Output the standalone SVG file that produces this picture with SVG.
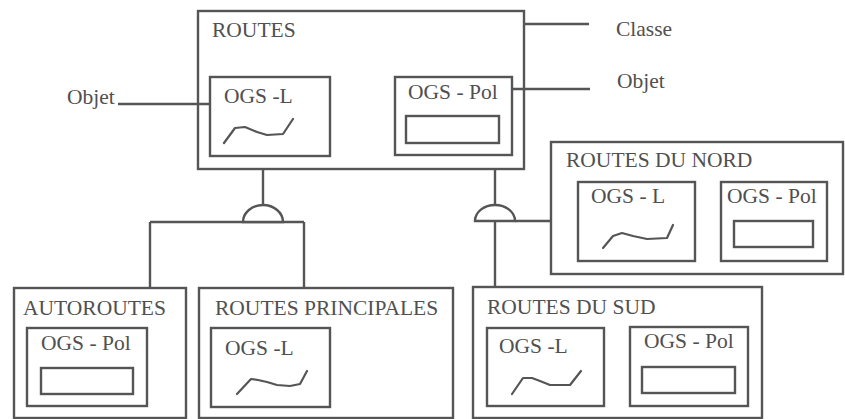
<svg xmlns="http://www.w3.org/2000/svg" width="845" height="419" viewBox="0 0 845 419">
<style>
.b{fill:none;stroke:#555;stroke-width:2.4}
.c{fill:none;stroke:#555;stroke-width:2.2;stroke-linejoin:round;stroke-linecap:round}
.t{font-family:"Liberation Serif","Times New Roman",serif;font-size:21.5px;fill:#505050}
.w{fill:#fff;stroke:#555;stroke-width:2.4}
</style>
<rect width="845" height="419" fill="#fff"/>
<g id="connectors">
<line class="b" x1="524" y1="24" x2="589" y2="24"/>
<line class="b" x1="512" y1="89" x2="590" y2="89"/>
<line class="b" x1="118" y1="104" x2="210" y2="104"/>
<line class="b" x1="263" y1="169" x2="263" y2="205"/>
<line class="b" x1="150" y1="222" x2="304" y2="222"/>
<line class="b" x1="150" y1="222" x2="150" y2="288"/>
<line class="b" x1="304" y1="222" x2="304" y2="288"/>
<path class="w" d="M243,222 A20,17 0 0 1 283,222 Z"/>
<line class="b" x1="495" y1="169" x2="495" y2="205"/>
<line class="b" x1="495" y1="221" x2="495" y2="287"/>
<line class="b" x1="515" y1="221" x2="551" y2="221"/>
<path class="w" d="M475,221 A20,16 0 0 1 515,221 Z"/>
</g>
<g id="labels">
<text class="t" x="616" y="36">Classe</text>
<text class="t" x="617" y="88">Objet</text>
<text class="t" x="67" y="104">Objet</text>
</g>
<g id="routes">
<rect class="b" x="198" y="11" width="326" height="158"/>
<text class="t" x="212" y="37">ROUTES</text>
<rect class="b" x="210" y="77" width="120" height="79"/>
<text class="t" x="224" y="103">OGS -L</text>
<path class="c" d="M224,143 L235,128 L245,127 L257,132 L267,135 L283,134 L293,119"/>
<rect class="b" x="395" y="77" width="117" height="78"/>
<text class="t" x="408" y="99">OGS - Pol</text>
<rect class="b" x="406" y="116" width="93" height="27"/>
</g>
<g id="routes-du-nord">
<rect class="b" x="551" y="142" width="292" height="132"/>
<text class="t" x="566" y="167">ROUTES DU NORD</text>
<rect class="b" x="578" y="182" width="117" height="79"/>
<text class="t" x="591" y="203">OGS - L</text>
<path class="c" d="M603,248 L613,236 L622,233 L633,236 L647,239 L667,238 L673,225"/>
<rect class="b" x="721" y="182" width="106" height="79"/>
<text class="t" x="727" y="203">OGS - Pol</text>
<rect class="b" x="734" y="221" width="79" height="26"/>
</g>
<g id="autoroutes">
<rect class="b" x="14" y="288" width="172" height="130"/>
<text class="t" x="23" y="315">AUTOROUTES</text>
<rect class="b" x="27" y="328" width="120" height="78"/>
<text class="t" x="41" y="350">OGS - Pol</text>
<rect class="b" x="41" y="368" width="92" height="26"/>
</g>
<g id="routes-principales">
<rect class="b" x="199" y="288" width="254" height="130"/>
<text class="t" x="215" y="315">ROUTES PRINCIPALES</text>
<rect class="b" x="211" y="328" width="119" height="79"/>
<text class="t" x="225" y="355">OGS -L</text>
<path class="c" d="M237,394 L251,379 L258,380 L267,382 L277,385 L290,386 L300,384 L307,371"/>
</g>
<g id="routes-du-sud">
<rect class="b" x="473" y="287" width="289" height="131"/>
<text class="t" x="487" y="314">ROUTES DU SUD</text>
<rect class="b" x="487" y="328" width="117" height="78"/>
<text class="t" x="499" y="353">OGS -L</text>
<path class="c" d="M512,394 L523,378 L532,378 L540,381 L550,385 L570,385 L581,371"/>
<rect class="b" x="630" y="327" width="118" height="79"/>
<text class="t" x="644" y="348">OGS - Pol</text>
<rect class="b" x="642" y="367" width="93" height="26"/>
</g>
</svg>
